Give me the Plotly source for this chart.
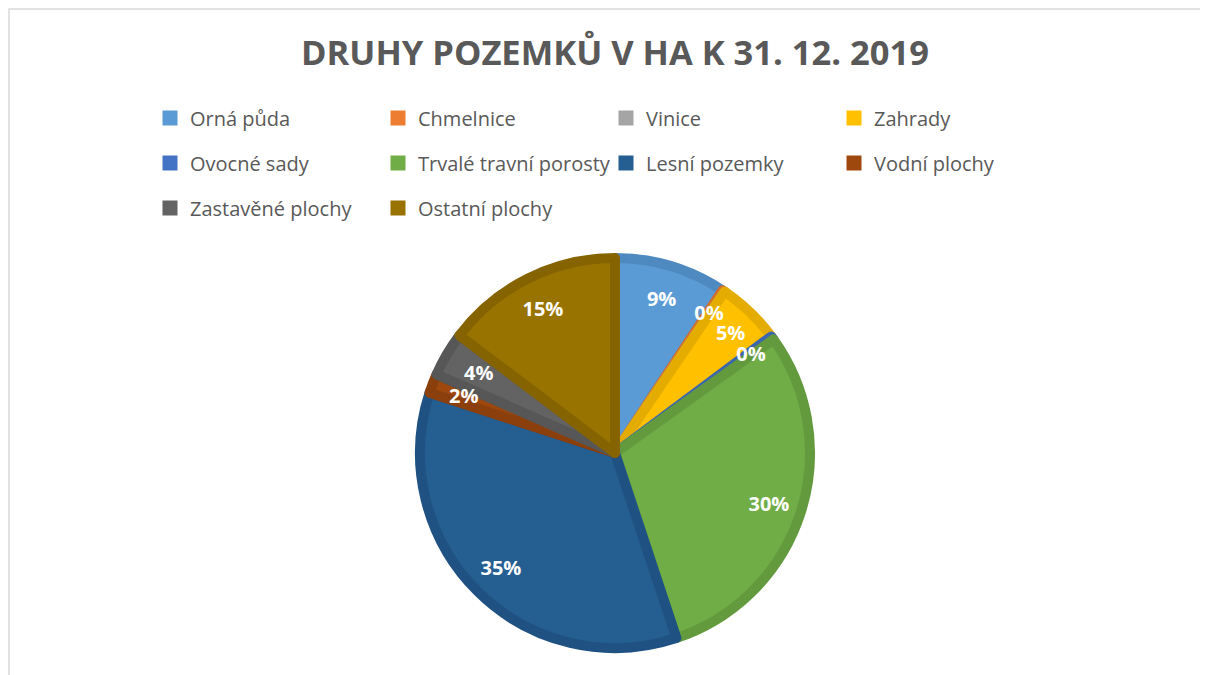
import plotly.graph_objects as go

categories = ["Orná půda", "Chmelnice", "Vinice", "Zahrady", "Ovocné sady",
              "Trvalé travní porosty", "Lesní pozemky", "Vodní plochy",
              "Zastavěné plochy", "Ostatní plochy"]
values = [9.3, 0.2, 0.0, 5.3, 0.3, 29.8, 35.1, 1.6, 3.7, 14.7]
fill_colors = ["#5B9BD5", "#ED7D31", "#A5A5A5", "#FFC000", "#4472C4",
               "#70AD47", "#255E91", "#9E480E", "#636363", "#997300"]
edge_colors = ["#4E89C0", "#D46E2A", "#939393", "#E5AC00", "#3C65AF",
               "#639A3E", "#1F5282", "#8B3F0C", "#575757", "#856400"]
title_text = "DRUHY POZEMKŮ V HA K 31. 12. 2019"

W, H = 1208, 675
OFF = 8  # page body margin

def px(x):
    return (x - OFF) / W

def py(y):
    return 1 - (y - OFF) / H

CX, CY, R = 615, 453, 195
pie_domain = dict(x=[px(CX - R), px(CX + R)], y=[py(CY + R), py(CY - R)])
r2 = 170
small_domain = dict(x=[px(CX - r2), px(CX + r2)], y=[py(CY + r2), py(CY - r2)])

total = sum(values)
pct_fmt = "%{percent:.0%}"
big_text = [pct_fmt if v / total >= 0.045 else "" for v in values]
small_text = [pct_fmt if 0 < v / total < 0.045 else "" for v in values]
clear = ["rgba(0,0,0,0)"] * len(values)
label_font = dict(family="Open Sans", size=20, color="white", weight="bold")

fig = go.Figure()

# slices
fig.add_trace(go.Pie(
    labels=categories, values=values, sort=False, direction="clockwise",
    rotation=0,
    marker=dict(colors=fill_colors, line=dict(color=edge_colors, width=10)),
    textinfo="none", showlegend=False, hoverinfo="label+percent",
    domain=pie_domain,
))

# percentage labels for larger slices in an outer ring
fig.add_trace(go.Pie(
    labels=categories, values=values, sort=False, direction="clockwise",
    rotation=0, hole=0.66,
    marker=dict(colors=clear, line=dict(width=0)),
    texttemplate=big_text, textposition="inside",
    insidetextorientation="horizontal", textfont=label_font,
    showlegend=False, hoverinfo="skip", domain=pie_domain,
))

# percentage labels for thin slices, slightly further in
fig.add_trace(go.Pie(
    labels=categories, values=values, sort=False, direction="clockwise",
    rotation=0, hole=0.86,
    marker=dict(colors=clear, line=dict(width=0)),
    texttemplate=small_text, textposition="inside",
    insidetextorientation="horizontal", textfont=label_font,
    showlegend=False, hoverinfo="skip", domain=small_domain,
))

# legend entries, one legend per row of four
legend_ids = ["legend", "legend2", "legend3"]
for i, (cat, col) in enumerate(zip(categories, fill_colors)):
    fig.add_trace(go.Scatter(
        x=[None], y=[None], mode="markers", name=cat,
        marker=dict(symbol="square", size=15, color=col),
        legend=legend_ids[i // 4], showlegend=True, hoverinfo="skip",
    ))

leg_common = dict(orientation="h", xanchor="left", yanchor="middle",
                  entrywidth=183, entrywidthmode="pixels",
                  font=dict(family="Open Sans", size=20, color="#595959"),
                  bgcolor="rgba(0,0,0,0)", itemclick=False, itemdoubleclick=False)
row_y = [118, 163, 208]
leg_x = 150

fig.update_layout(
    width=W, height=H,
    margin=dict(l=0, r=0, t=0, b=0),
    paper_bgcolor="white", plot_bgcolor="white",
    xaxis=dict(visible=False), yaxis=dict(visible=False),
    uniformtext=dict(minsize=20, mode="show"),
    title=dict(text=title_text, x=px(615), xanchor="center", y=py(53),
               yanchor="middle",
               font=dict(family="Open Sans", size=34.5, color="#595959", weight="bold")),
    legend=dict(x=px(leg_x), y=py(row_y[0]), **leg_common),
    legend2=dict(x=px(leg_x), y=py(row_y[1]), **leg_common),
    legend3=dict(x=px(leg_x), y=py(row_y[2]), **leg_common),
    shapes=[dict(type="rect", xref="paper", yref="paper",
                 x0=px(9), x1=1.02, y0=-0.02, y1=py(9),
                 line=dict(color="#D9D9D9", width=1.5))],
)

fig.write_html("out.html")
